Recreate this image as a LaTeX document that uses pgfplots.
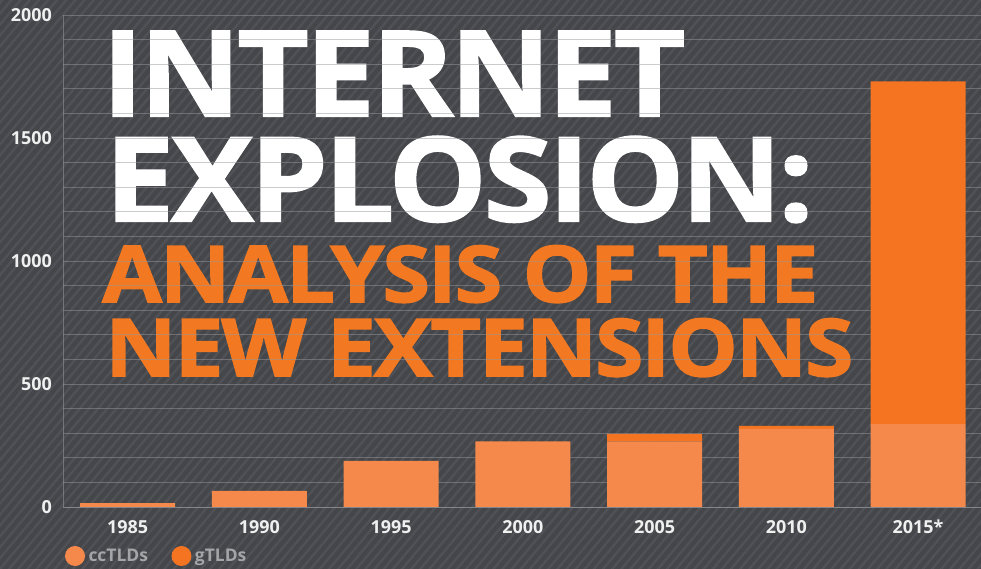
\documentclass[border=0pt]{standalone}
\usepackage{fontspec}
\setmainfont{Open Sans}
\newfontfamily\titlefont{Open Sans}[BoldFeatures={FakeBold=1.6, LetterSpace=-2.5}]
\usepackage{pgfplots}
\pgfplotsset{compat=1.18}
\usetikzlibrary{patterns.meta}
\definecolor{bg}{RGB}{68,70,74}
\definecolor{stripe}{RGB}{79,81,86}
\definecolor{cc}{RGB}{245,137,76}
\definecolor{gt}{RGB}{244,116,34}
\definecolor{titleor}{RGB}{243,120,34}
\definecolor{gridc}{RGB}{150,152,156}
\definecolor{legtext}{RGB}{165,165,168}
\definecolor{ticktext}{RGB}{240,240,240}
\begin{document}
\begin{tikzpicture}
\useasboundingbox (0,0) rectangle (981bp,569bp);
\fill[bg] (0,0) rectangle (981bp,569bp);
\fill[pattern={Lines[angle=50,distance=7bp,line width=2.5bp]},pattern color=stripe] (0,0) rectangle (981bp,569bp);
\node[anchor=north west,inner sep=0pt,text=white] at (102bp,538bp) {\resizebox{583bp}{85bp}{\titlefont\bfseries INTERNET}};
\node[anchor=north west,inner sep=0pt,text=white] at (105bp,433bp) {\resizebox{708bp}{85bp}{\titlefont\bfseries EXPLOSION:}};
\node[anchor=north west,inner sep=0pt,text=titleor] at (102bp,324bp) {\resizebox{716bp}{57bp}{\titlefont\bfseries ANALYSIS OF THE}};
\node[anchor=north west,inner sep=0pt,text=titleor] at (105bp,251bp) {\resizebox{748bp}{58bp}{\titlefont\bfseries NEW EXTENSIONS}};
\begin{axis}[
  at={(63bp,62bp)}, anchor=south west, scale only axis,
  width=918bp, height=492bp,
  xmin=-0.4896, xmax=6.478, ymin=0, ymax=2000,
  ybar stacked, bar width=95bp,
  axis lines=left,
  axis line style={-, draw=gridc, draw opacity=0.55, line width=0.8bp},
  xtick={0,...,6}, xticklabels={1985,1990,1995,2000,2005,2010,2015*},
  ytick={0,500,...,2000}, yticklabels={0,500,1000,1500,2000},
  minor y tick num=4, ymajorgrids, yminorgrids,
  major grid style={draw=gridc, draw opacity=0.5, line width=0.8bp},
  minor grid style={draw=gridc, draw opacity=0.5, line width=0.8bp},
  major tick length=0pt, minor tick length=0pt,
  tick label style={font=\bfseries\fontsize{18}{18}\selectfont, text=ticktext, inner sep=0pt},
  yticklabel style={xshift=-11bp},
  xticklabel style={yshift=-13bp},
  legend columns=2,
  legend style={at={(0.002,-0.0996)}, anchor=west, draw=none, fill=none, inner sep=0pt,
    font=\bfseries\fontsize{17.5}{17.5}\selectfont, text=legtext,
    /tikz/every even column/.append style={column sep=20bp},
    nodes={inner sep=3.5bp}},
  legend image code/.code={\fill[#1, draw=none] (10bp,0) circle (10bp);},
]
\addplot[fill=cc, draw=none] coordinates {(0,16) (1,66) (2,188) (3,267) (4,267) (5,318) (6,337)};
\addplot[fill=gt, draw=none] coordinates {(0,0) (1,0) (2,0) (3,0) (4,30) (5,12) (6,1393)};
\legend{ccTLDs, gTLDs}
\end{axis}
\end{tikzpicture}
\end{document}
